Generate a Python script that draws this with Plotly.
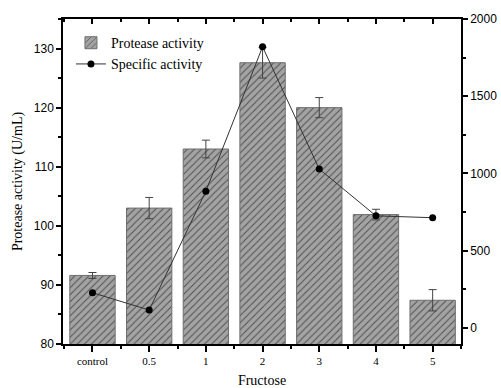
import plotly.graph_objects as go

# Fructose concentration groups
categories = ["control", "0.5", "1", "2", "3", "4", "5"]
# Protease activity (U/mL) with standard deviation
protease = [91.6, 103.0, 113.0, 127.6, 120.0, 101.9, 87.4]
protease_err = [0.5, 1.8, 1.5, 2.6, 1.7, 0.9, 1.8]
# Specific activity (right axis)
specific = [227, 115, 885, 1820, 1028, 725, 713]

xpos = list(range(len(categories)))
minor_pos = [i + 0.5 for i in range(-1, len(categories))]

serif = "Liberation Serif, Times New Roman, serif"
sans = "Liberation Sans, Arial, sans-serif"

fig = go.Figure()

fig.add_trace(go.Bar(
    x=xpos, y=protease, width=0.8, name="Protease activity",
    marker=dict(
        color="#a3a3a3",
        line=dict(color="#6e6e6e", width=1),
        pattern=dict(shape="/", bgcolor="#a3a3a3", fgcolor="#4a4a4a",
                     size=5, solidity=0.18, fillmode="replace"),
    ),
    error_y=dict(type="data", array=protease_err, color="#444444",
                 thickness=1, width=4),
    yaxis="y", xaxis="x",
))

fig.add_trace(go.Scatter(
    x=xpos, y=specific, name="Specific activity", mode="lines+markers",
    line=dict(color="#333333", width=1),
    marker=dict(color="black", size=7),
    yaxis="y2", xaxis="x",
))

# invisible trace so the top axis is drawn
fig.add_trace(go.Scatter(x=[0], y=[None], xaxis="x2", yaxis="y", showlegend=False,
                         hoverinfo="skip", mode="markers", marker=dict(opacity=0)))

xrange = [-0.52, 6.5]
tick_common = dict(tickwidth=1.5, tickcolor="black", showline=True, linecolor="black",
                   linewidth=1.5, showgrid=False, zeroline=False, automargin=False)

fig.update_layout(
    width=501, height=388,
    margin=dict(l=63, r=40, t=19, b=44),
    plot_bgcolor="white", paper_bgcolor="white",
    showlegend=True,
    legend=dict(x=0.02, y=0.975, xanchor="left", yanchor="top",
                bgcolor="rgba(0,0,0,0)", font=dict(family=serif, size=14, color="black"),
                itemwidth=30, tracegroupgap=0),
    xaxis=dict(
        range=xrange, tickmode="array", tickvals=xpos, ticktext=categories,
        ticks="outside", ticklen=6, **tick_common,
        tickfont=dict(family=serif, size=11, color="black"),
        minor=dict(tickmode="array", tickvals=minor_pos, ticks="outside",
                   ticklen=3, tickwidth=1.5, tickcolor="black", showgrid=False),
        title=dict(text="Fructose", font=dict(family=serif, size=14, color="black"), standoff=12),
    ),
    xaxis2=dict(
        range=xrange, overlaying="x", side="top", tickmode="array", tickvals=xpos,
        showticklabels=False, ticks="inside", ticklen=5, **tick_common,
        minor=dict(tickmode="array", tickvals=minor_pos, ticks="inside",
                   ticklen=3, tickwidth=1.5, tickcolor="black", showgrid=False),
    ),
    yaxis=dict(
        range=[80, 135], tickmode="array", tickvals=[80, 90, 100, 110, 120, 130],
        ticks="outside", ticklen=5, **tick_common,
        tickfont=dict(family=sans, size=12, color="black"),
        minor=dict(tickmode="array", tickvals=[85, 95, 105, 115, 125, 135], ticks="outside",
                   ticklen=3, tickwidth=1.5, tickcolor="black", showgrid=False),
        title=dict(text="Protease activity (U/mL)", font=dict(family=serif, size=14, color="black"), standoff=8),
    ),
    yaxis2=dict(
        range=[-105, 2000], overlaying="y", side="right", tickmode="array",
        tickvals=[0, 500, 1000, 1500, 2000],
        ticks="outside", ticklen=5, **tick_common,
        tickfont=dict(family=sans, size=12, color="black"),
        minor=dict(tickmode="array", tickvals=[250, 750, 1250, 1750], ticks="outside",
                   ticklen=3, tickwidth=1.5, tickcolor="black", showgrid=False),
    ),
)

fig.write_html("out.html")
